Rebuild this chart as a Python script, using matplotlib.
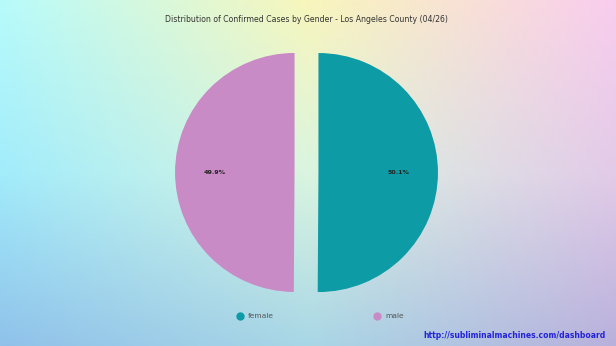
import numpy as np
import matplotlib.pyplot as plt

labels = ['female', 'male']
shares = [50.1, 49.9]
colors = ['#0d9ba6', '#c98bc6']
title = 'Distribution of Confirmed Cases by Gender - Los Angeles County (04/26)'
url = 'http://subliminalmachines.com/dashboard'

# pastel background, 3x3 grid of colours blended bilinearly
bg_hex = [['#b8fbfb', '#f8f6bc', '#f9cdee'],
          ['#a2ecfb', '#daf5e0', '#e2cbe8'],
          ['#90c2ea', '#a9d7e6', '#b9b1dc']]
grid = np.array([[[int(h[i:i + 2], 16) / 255 for i in (1, 3, 5)] for h in row] for row in bg_hex])
n = 120
t = np.linspace(0, 2, n)
i0 = np.minimum(t.astype(int), 1)
f = t - i0
rows = grid[i0] * (1 - f)[:, None, None] + grid[i0 + 1] * f[:, None, None]
bg = rows[:, i0] * (1 - f)[None, :, None] + rows[:, i0 + 1] * f[None, :, None]

fig = plt.figure(figsize=(6.16, 3.46), dpi=100)
bga = fig.add_axes([0, 0, 1, 1], zorder=-1)
bga.imshow(bg, aspect='auto', interpolation='bilinear', extent=[0, 1, 0, 1])
bga.axis('off')

W, H = 616, 346
R = 119.5
lim = 1.2
cx, cy = 306.5, 172.5
side = 2 * R * lim
ax = fig.add_axes([(cx - side / 2) / W, 1 - (cy + side / 2) / H, side / W, side / H])
wedges, texts, autotexts = ax.pie(shares, colors=colors, startangle=90, counterclock=False,
                                  explode=[0.1, 0.1], autopct='%1.1f%%', pctdistance=0.67,
                                  textprops={'fontsize': 4.6, 'color': '#222222',
                                             'fontweight': 'bold'})
ax.set_xlim(-lim, lim)
ax.set_ylim(-lim, lim)
ax.set_aspect('equal')
ax.axis('off')

fig.text(cx / W, 1 - 20 / H, title, ha='center', va='center', fontsize=5.6, color='#333333')

# legend: round markers with labels
lx = [240, 377]
ly = 1 - 316 / H
for x, lab, c in zip(lx, labels, colors):
    fig.add_artist(plt.Line2D([x / W], [ly], marker='o', markersize=5,
                              color=c, linestyle='none', transform=fig.transFigure))
    fig.text((x + 8) / W, ly, lab, ha='left', va='center', fontsize=5.4, color='#555555')

fig.text(606 / W, 1 - 336 / H, url, ha='right', va='center', fontsize=5.5,
         fontweight='bold', color='#2323d8')

fig.savefig('out.png', dpi=100)
